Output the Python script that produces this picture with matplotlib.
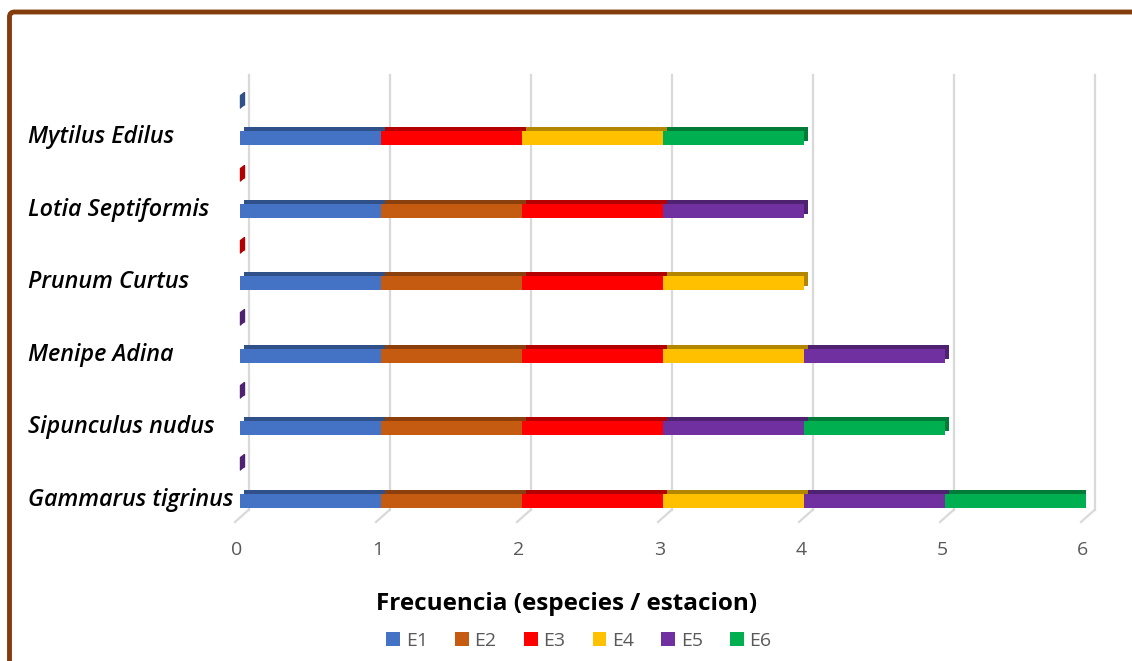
import numpy as np
import matplotlib.pyplot as plt
import matplotlib.transforms as mtransforms
from matplotlib.patches import Patch, FancyBboxPatch
from matplotlib.colors import to_rgb

# species, bottom to top
especies = ["Gammarus tigrinus", "Sipunculus nudus", "Menipe Adina",
            "Prunum Curtus", "Lotia Septiformis", "Mytilus Edilus"]
estaciones = ["E1", "E2", "E3", "E4", "E5", "E6"]
colores = ["#4472C4", "#C55A11", "#FF0000", "#FFC000", "#7030A0", "#00B050"]

# presence (1) per station, same order as especies
E1 = [1, 1, 1, 1, 1, 1]
E2 = [1, 1, 1, 1, 1, 0]
E3 = [1, 1, 1, 1, 1, 1]
E4 = [1, 0, 1, 1, 0, 1]
E5 = [1, 1, 1, 0, 1, 0]
E6 = [1, 1, 0, 0, 0, 1]
valores = [E1, E2, E3, E4, E5, E6]

# zero-length bars whose end cap shows above each species (series index)
caps = [4, 4, 4, 2, 2, 0]

ticks = [0, 1, 2, 3, 4, 5, 6]


def darker(c, f):
    r, g, b = to_rgb(c)
    return (r * f, g * f, b * f)


W, H = 1132, 661
fig = plt.figure(figsize=(W / 100, H / 100), dpi=100)
ax = fig.add_axes([240 / W, (H - 510) / H, 846 / W, 435 / H])
ax.set_xlim(0, 6)
ax.set_ylim(-0.131, 5.877)
ax.axis("off")

y = np.arange(len(especies))
h = 14 / 72.4

# back wall gridlines and floor ticks
grid_tr = mtransforms.offset_copy(ax.get_xaxis_transform(), fig=fig, x=8.5, y=0, units="dots")
for t in ticks:
    ax.plot([t, t], [0, 1], color="#D9D9D9", lw=1.6, transform=grid_tr, clip_on=False, zorder=0)
    floor_tr = mtransforms.IdentityTransform() + mtransforms.ScaledTranslation(
        t, 0, ax.get_xaxis_transform())
    ax.plot([8.5, -5], [0, -12], color="#D9D9D9", lw=1.6, transform=floor_tr,
            clip_on=False, zorder=0)
    lab_tr = mtransforms.offset_copy(ax.get_xaxis_transform(), fig=fig, x=-3, y=-40, units="dots")
    ax.text(t, 0, str(t), transform=lab_tr, ha="center", va="center",
            fontsize=14, color="#595959", family="Open Sans")

# stacked 3d-looking bars: dark extrusion first, then front faces
depth_tr = mtransforms.offset_copy(ax.transData, fig=fig, x=4, y=4, units="dots")
left = np.zeros(len(especies))
fronts = []
for vals, col in zip(valores, colores):
    vals = np.array(vals, dtype=float)
    back = ax.barh(y, vals, height=h, left=left, color=darker(col, 0.7), zorder=2)
    for p in back:
        p.set_transform(depth_tr)
    fronts.append((y, vals, left.copy(), col))
    left = left + vals
for yy, vals, lft, col in fronts:
    ax.barh(yy, vals, height=h, left=lft, color=col, zorder=3)

# end caps of the zero-length series
cap_marker = [(0, -1), (0, 0.625), (0.5, 1), (0.5, -0.625)]
for yy, s in zip(y, caps):
    ax.plot([0], [yy + 0.53], marker=cap_marker, markersize=11.5, linestyle="none",
            color=darker(colores[s], 0.7), clip_on=False, zorder=3)

# species labels
lab_tr = mtransforms.offset_copy(
    mtransforms.blended_transform_factory(fig.transFigure, ax.transData),
    fig=fig, x=0, y=-5, units="dots")
for yy, name in zip(y, especies):
    fig.text(28 / W, yy, name, transform=lab_tr, ha="left", va="baseline",
             fontsize=16.8, style="italic", fontweight="semibold", family="Open Sans")

fig.text(567 / W, 1 - 604 / H, "Frecuencia (especies / estacion)", ha="center",
         va="center", fontsize=17.5, fontweight="bold", family="Open Sans")

handles = [Patch(facecolor=c, label=e) for e, c in zip(estaciones, colores)]
fig.legend(handles=handles, loc="center", bbox_to_anchor=(579 / W, 1 - 641 / H), ncol=6,
           frameon=False, handlelength=0.7, handleheight=0.7,
           handletextpad=0.3, columnspacing=1.4, labelcolor="#595959",
           prop={"family": "Open Sans", "size": 14})

# brown frame
fig.add_artist(FancyBboxPatch((9.5, -20), 1200, H - 12 + 20,
                              boxstyle="round,pad=0,rounding_size=5",
                              facecolor="none", edgecolor="#843C0C", lw=3.5,
                              transform=mtransforms.IdentityTransform()))

fig.savefig("out.png", dpi=100)
